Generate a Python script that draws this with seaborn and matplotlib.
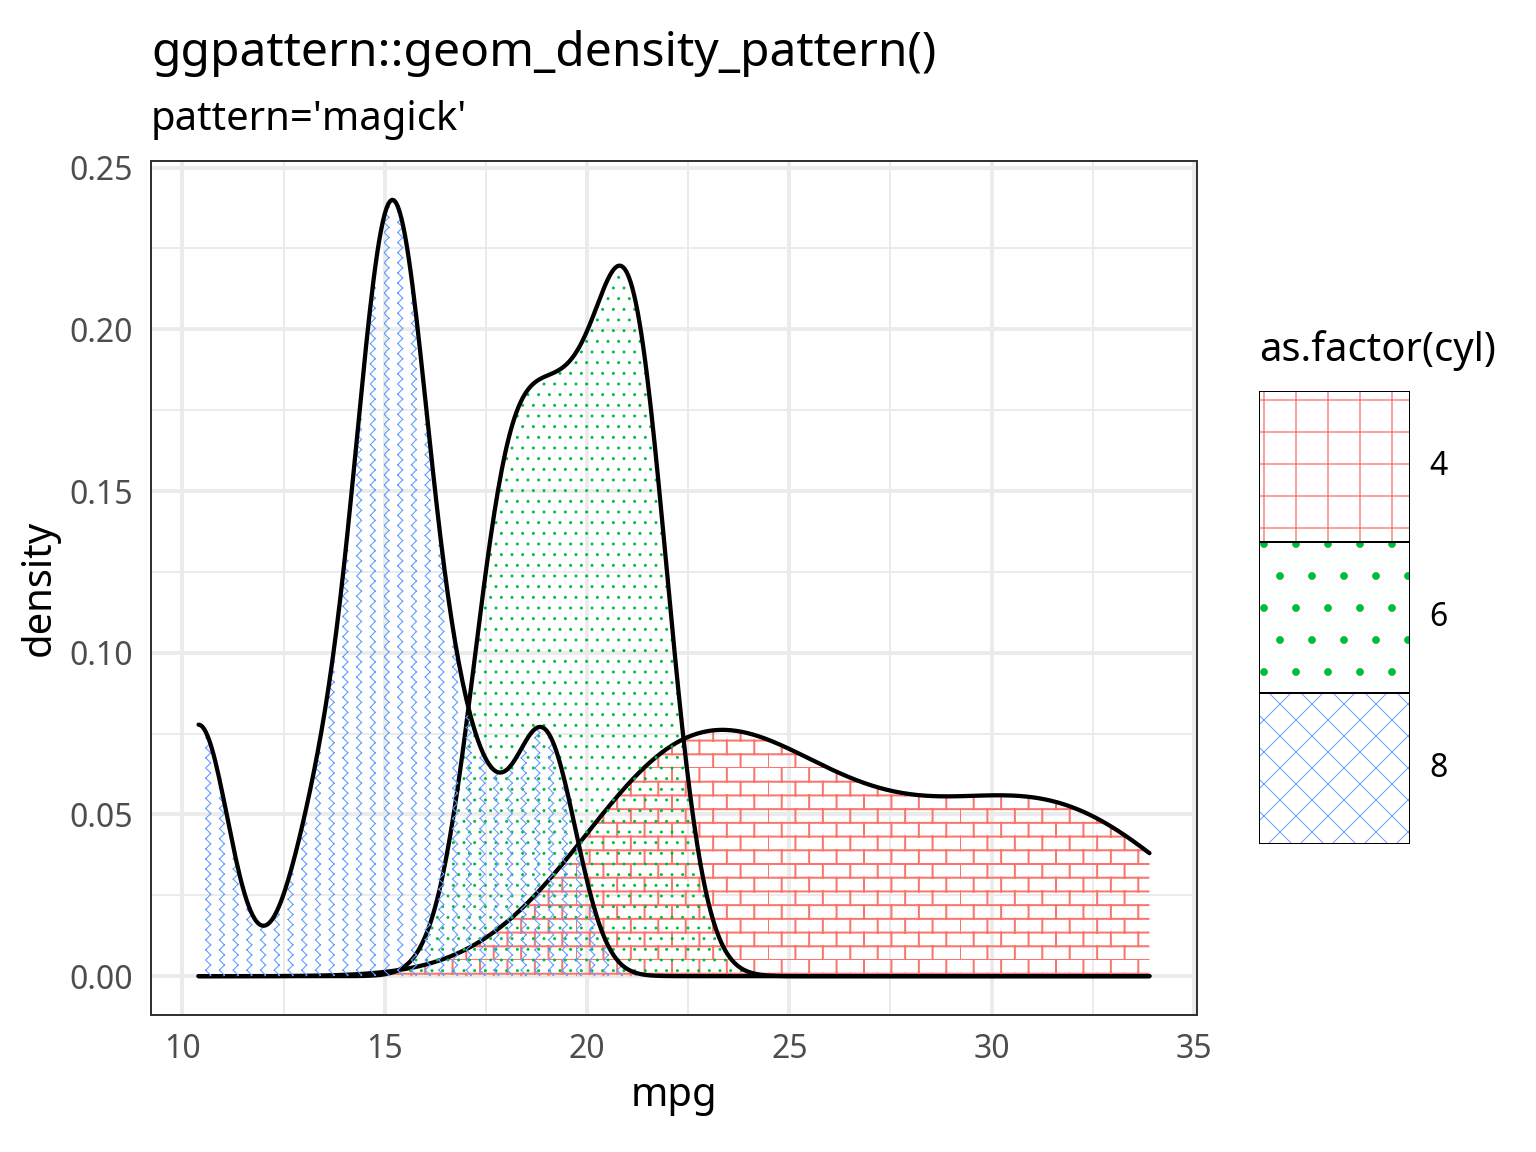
import warnings
import numpy as np
import matplotlib
matplotlib.use("Agg")
import matplotlib.pyplot as plt
import matplotlib.hatch as mhatch
from matplotlib.path import Path
from matplotlib.patches import Rectangle
from matplotlib.ticker import FormatStrFormatter
import seaborn as sns

warnings.filterwarnings("ignore")

# mtcars mpg split by number of cylinders
cyl_levels = ["4", "6", "8"]
mpg_4 = [22.8, 24.4, 22.8, 32.4, 30.4, 33.9, 21.5, 27.3, 26.0, 30.4, 21.4]
mpg_6 = [21.0, 21.0, 21.4, 18.1, 19.2, 17.8, 19.7]
mpg_8 = [18.7, 14.3, 16.4, 17.3, 15.2, 10.4, 10.4, 14.7, 15.5, 15.2, 13.3, 19.2, 15.8, 15.0]

x_ticks = [10, 15, 20, 25, 30, 35]
y_ticks = [0.00, 0.05, 0.10, 0.15, 0.20, 0.25]

# Farben / Muster
fill_colors = {"4": "#F8766D", "6": "#00BA38", "8": "#619CFF"}
plot_hatch = {"4": "b", "6": "...", "8": "z"}
plot_hatch_lw = {"4": 0.75, "6": 0.3, "8": 0.4}
key_hatch = {"4": "+", "6": ".", "8": "xx"}
key_hatch_lw = {"4": 0.5, "6": 0.5, "8": 0.35}


# eigene Schraffuren: Ziegel und Zickzack (nur Einzelsegmente, damit nichts gefuellt wird)
class BrickHatch(mhatch.HatchPatternBase):
    rows, cols = 14, 7

    def __init__(self, hatch, density):
        self.num_vertices = 2 * self.rows * (self.cols + 1) if "b" in hatch else 0

    def set_vertices_and_codes(self, vertices, codes):
        v = []
        for r in range(self.rows):
            y0, y1 = r / self.rows, (r + 1) / self.rows
            v += [(0, y0), (1, y0)]
            shift = 0.5 * (r % 2)
            for c in range(self.cols):
                x = (c + shift) / self.cols
                v += [(x, y0), (x, y1)]
        vertices[:] = v
        codes[0::2] = Path.MOVETO
        codes[1::2] = Path.LINETO


class ZigzagHatch(mhatch.HatchPatternBase):
    cols, steps, amp = 14, 38, 0.026

    def __init__(self, hatch, density):
        self.num_vertices = 2 * self.cols * self.steps if "z" in hatch else 0

    def set_vertices_and_codes(self, vertices, codes):
        v = []
        for c in range(self.cols):
            x0 = c / self.cols
            for s in range(self.steps):
                xa = x0 + self.amp * (s % 2)
                xb = x0 + self.amp * ((s + 1) % 2)
                v += [(xa, s / self.steps), (xb, (s + 1) / self.steps)]
        vertices[:] = v
        codes[0::2] = Path.MOVETO
        codes[1::2] = Path.LINETO


mhatch._hatch_types += [BrickHatch, ZigzagHatch]


def nrd0_factor(values):
    # R's bw.nrd0, as factor of the sample sd (gaussian_kde convention)
    v = np.asarray(values)
    sd = v.std(ddof=1)
    iqr = np.subtract(*np.percentile(v, [75, 25]))
    bw = 0.9 * min(sd, iqr / 1.34) * len(v) ** -0.2
    return bw / sd


def set_hatch_lw(artist, lw):
    if hasattr(artist, "set_hatch_linewidth"):
        artist.set_hatch_linewidth(lw)


sns.set_style("white")
plt.rcParams["font.family"] = ["Noto Sans", "DejaVu Sans"]
plt.rcParams["text.color"] = "black"
plt.rcParams["axes.labelcolor"] = "black"
plt.rcParams["hatch.linewidth"] = 0.4

groups = {"4": mpg_4, "6": mpg_6, "8": mpg_8}
mpg_all = mpg_4 + mpg_6 + mpg_8
lo, hi = min(mpg_all), max(mpg_all)

fig, ax = plt.subplots(figsize=(8, 6), dpi=192)
fig.subplots_adjust(left=151 / 1536, right=1197 / 1536, top=1 - 161 / 1152, bottom=1 - 1015 / 1152)

for i, lvl in enumerate(cyl_levels):
    vals = groups[lvl]
    kw = dict(x=vals, bw_method=nrd0_factor(vals), cut=100, clip=(lo, hi), gridsize=512, ax=ax)
    with plt.rc_context({"hatch.linewidth": plot_hatch_lw[lvl]}):
        sns.kdeplot(**kw, fill=True, color=fill_colors[lvl], facecolor="none",
                    edgecolor=fill_colors[lvl], hatch=plot_hatch[lvl], linewidth=0, zorder=2 + 2 * i)
    set_hatch_lw(ax.collections[-1], plot_hatch_lw[lvl])
    sns.kdeplot(**kw, color="black", linewidth=1.6, zorder=3 + 2 * i)

ymax = max(line.get_ydata().max() for line in ax.lines)
xr = hi - lo
ax.set_xlim(lo - 0.05 * xr, hi + 0.05 * xr)
ax.set_ylim(-0.05 * ymax, 1.05 * ymax)

ax.set_xticks(x_ticks)
ax.set_yticks(y_ticks)
ax.set_xticks([(a + b) / 2 for a, b in zip(x_ticks[:-1], x_ticks[1:])], minor=True)
ax.set_yticks([(a + b) / 2 for a, b in zip(y_ticks[:-1], y_ticks[1:])], minor=True)
ax.yaxis.set_major_formatter(FormatStrFormatter("%.2f"))
ax.grid(which="major", color="#EBEBEB", linewidth=1.45, zorder=0)
ax.grid(which="minor", color="#EBEBEB", linewidth=0.73, zorder=0)
ax.set_axisbelow(True)
ax.tick_params(which="major", length=3.75, width=1.0, color="#333333",
               labelsize=12, labelcolor="#4D4D4D", pad=3)
ax.tick_params(which="minor", length=0)
for s in ax.spines.values():
    s.set_color("#333333")
    s.set_linewidth(0.75)
    s.set_zorder(20)

ax.set_xlabel("mpg", fontsize=15, labelpad=3.7)
ax.set_ylabel("density", fontsize=15, labelpad=3.7)

fig.text(151 / 1536, 1 - 66 / 1152, "ggpattern::geom_density_pattern()", fontsize=18, va="baseline")
fig.text(151 / 1536, 1 - 130 / 1152, "pattern='magick'", fontsize=15, va="baseline")

# Legende
lax = fig.add_axes([1259 / 1536, 1 - 844 / 1152, 151 / 1536, 453 / 1152])
lax.set_xlim(0, 1)
lax.set_ylim(0, 3)
lax.axis("off")
for i, lvl in enumerate(cyl_levels):
    y0 = 2 - i
    with plt.rc_context({"hatch.linewidth": key_hatch_lw[lvl]}):
        key = Rectangle((0, y0), 1, 1, facecolor="white", edgecolor=fill_colors[lvl],
                        hatch=key_hatch[lvl], linewidth=0)
    set_hatch_lw(key, key_hatch_lw[lvl])
    lax.add_patch(key)
    lax.add_patch(Rectangle((0, y0), 1, 1, facecolor="none", edgecolor="black", linewidth=0.75))
    lax.text(1.13, y0 + 0.5, lvl, fontsize=12, va="center", ha="left")
lax.text(0, 3.2, "as.factor(cyl)", fontsize=15, va="baseline", ha="left", clip_on=False)

fig.savefig("out.png", dpi=192)
